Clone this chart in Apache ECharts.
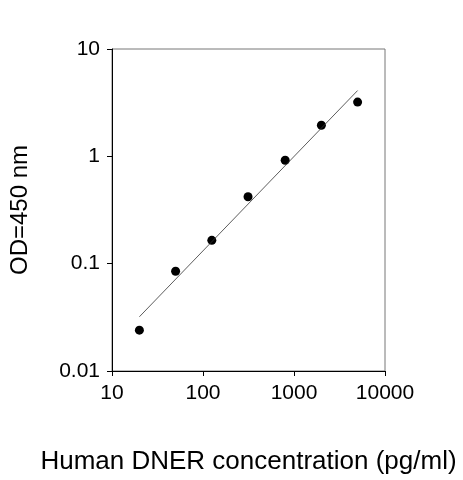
<!DOCTYPE html><html><head><meta charset="utf-8"><script src="https://cdn.jsdelivr.net/npm/echarts@6/dist/echarts.min.js"></script></head><body style="margin:0"><div id="c" style="width:463px;height:480px"></div><script>
const conc=[20,50,125,312.5,800,2000,5000];
const od=[0.024,0.085,0.165,0.42,0.92,1.95,3.2];
const fitX=[20,5000];
const fitY=[0.032,4.1];
const F='Liberation Sans';
const ch=echarts.init(document.getElementById('c'));
ch.setOption({animation:false,
grid:{left:99,right:78,top:49,bottom:105,show:true,borderColor:'#777',borderWidth:1},
xAxis:{type:'log',min:10,max:10000,logBase:10,name:'Human DNER concentration (pg/ml)',nameLocation:'middle',nameGap:78,nameTextStyle:{fontFamily:F,fontSize:26,color:'#000'},
axisLine:{lineStyle:{color:'#000'}},axisTick:{inside:false,length:5,lineStyle:{color:'#000'}},splitLine:{show:false},minorTick:{show:false},
axisLabel:{fontFamily:F,fontSize:21,color:'#000',margin:12,formatter:v=>String(Math.round(v))}},
yAxis:{type:'log',min:0.01,max:10,logBase:10,name:'OD=450 nm',nameLocation:'middle',nameGap:80,nameTextStyle:{fontFamily:F,fontSize:24,color:'#000'},
axisLine:{show:true,lineStyle:{color:'#000'}},axisTick:{show:true,length:5,lineStyle:{color:'#000'}},splitLine:{show:false},
axisLabel:{fontFamily:F,fontSize:21,color:'#000',margin:12,formatter:v=>String(+v.toPrecision(2))}},
series:[{type:'line',data:fitX.map((x,i)=>[x,fitY[i]]),symbol:'none',lineStyle:{color:'#333',width:0.8}},
{type:'scatter',data:conc.map((x,i)=>[x,od[i]]),symbolSize:9,itemStyle:{color:'#000',opacity:1}}]});
</script></body></html>
